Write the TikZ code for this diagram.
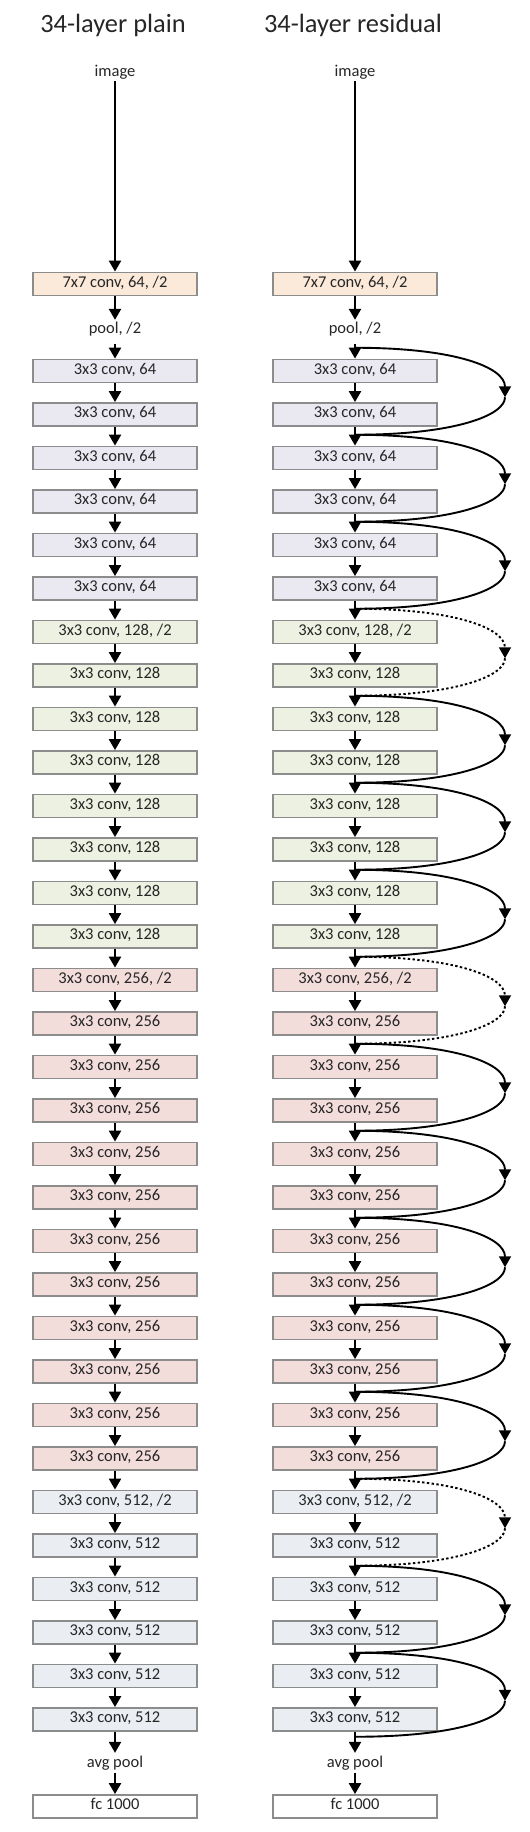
\documentclass[tikz,border=0pt]{standalone}
\usepackage{fontspec}
\setmainfont{Carlito}
\usetikzlibrary{arrows.meta}
\definecolor{cA}{HTML}{FBE9DA}
\definecolor{cB}{HTML}{EAE8F1}
\definecolor{cC}{HTML}{EDF1E1}
\definecolor{cD}{HTML}{F2DDDB}
\definecolor{cE}{HTML}{EAEDF2}
\definecolor{edge}{HTML}{8C8C8C}
\definecolor{ink}{HTML}{262626}
\begin{document}
\begin{tikzpicture}[x=1pt,y=-1pt,
  layer/.style={draw=edge,line width=1.8pt,minimum width=164pt,minimum height=23pt,
    inner sep=0pt,font=\fontsize{16.5}{18}\selectfont,text=ink,text height=0.64em,text depth=0pt},
  lbl/.style={font=\fontsize{16.5}{18}\selectfont,text=ink,inner sep=2pt,anchor=base},
  ttl/.style={font=\fontsize{26.4}{30}\selectfont,text=ink,inner sep=0pt,anchor=base},
  tip/.style={-{Triangle[width=12pt,length=11pt]}},
  flow/.style={line width=2.2pt,tip},
  skipline/.style={line width=1.9pt},
  dotline/.style={skipline,dash pattern=on 2.4pt off 2.4pt}]
\useasboundingbox (0,0) rectangle (530,1832);
\node[ttl] (T1) at (113,32) {34-layer plain};
\node[ttl] (T2) at (353,32) {34-layer residual};
% column heads
\foreach \c/\x in {L/115,R/355}{
  \node[lbl] (\c img) at (\x,76) {image};
  \node[layer,fill=cA] (\c first) at (\x,284) {7x7 conv, 64, /2};
  \node[lbl] (\c pool) at (\x,333) {pool, /2};
  \node[lbl] (\c avg) at (\x,1767.5) {avg pool};
  \node[layer,fill=white] (\c fc) at (\x,1806.5) {fc 1000};
}
\foreach \i in {0,...,31}{
  \ifnum\i<6 \def\lt{3x3 conv, 64}\def\lc{cB}\else
  \ifnum\i=6 \def\lt{3x3 conv, 128, /2}\def\lc{cC}\else
  \ifnum\i<14 \def\lt{3x3 conv, 128}\def\lc{cC}\else
  \ifnum\i=14 \def\lt{3x3 conv, 256, /2}\def\lc{cD}\else
  \ifnum\i<26 \def\lt{3x3 conv, 256}\def\lc{cD}\else
  \ifnum\i=26 \def\lt{3x3 conv, 512, /2}\def\lc{cE}\else
  \def\lt{3x3 conv, 512}\def\lc{cE}\fi\fi\fi\fi\fi\fi
  \pgfmathsetmacro\yy{371+43.5*\i}
  \node[layer,fill=\lc] (L\i) at (115,\yy) {\lt};
  \node[layer,fill=\lc] (R\i) at (355,\yy) {\lt};
}
% main flow arrows
\foreach \c in {L,R}{
  \draw[flow] (\c img.south) -- (\c first.north);
  \draw[flow,shorten >=-0.5pt] (\c first.south) -- (\c pool.north);
  \draw[flow,shorten <=6pt] (\c pool.south) -- (\c 0.north);
  \foreach \i in {0,...,30}{
    \pgfmathtruncatemacro\j{\i+1}
    \draw[flow] (\c\i.south) -- (\c\j.north);
  }
  \draw[flow,shorten >=1pt] (\c 31.south) -- (\c avg.north);
  \draw[flow] (\c avg.south) -- (\c fc.north);
}
% shortcut junctions
\foreach \k in {0,...,15}{
  \pgfmathsetmacro\ys{347.75+87*\k}
  \coordinate (j\k) at (355,\ys);
}
\coordinate (j16) at (355,1736.75);
\foreach \k in {0,...,15}{
  \pgfmathtruncatemacro\kk{\k+1}
  \ifnum\k=15 \pgfmathsetmacro\ym{1700.75}\else\pgfmathsetmacro\ym{397.25+87*\k}\fi
  \coordinate (m\k) at (505,\ym);
  \ifnum\k=3 \def\st{dotline}\else\ifnum\k=7 \def\st{dotline}\else\ifnum\k=13 \def\st{dotline}\else\def\st{skipline}\fi\fi\fi
  \draw[\st,tip] (j\k) .. controls +(100,0) and +(0,-30) .. (m\k);
  \draw[\st] (m\k) .. controls +(0,18) and +(100,0) .. (j\kk);
}
\end{tikzpicture}
\end{document}
